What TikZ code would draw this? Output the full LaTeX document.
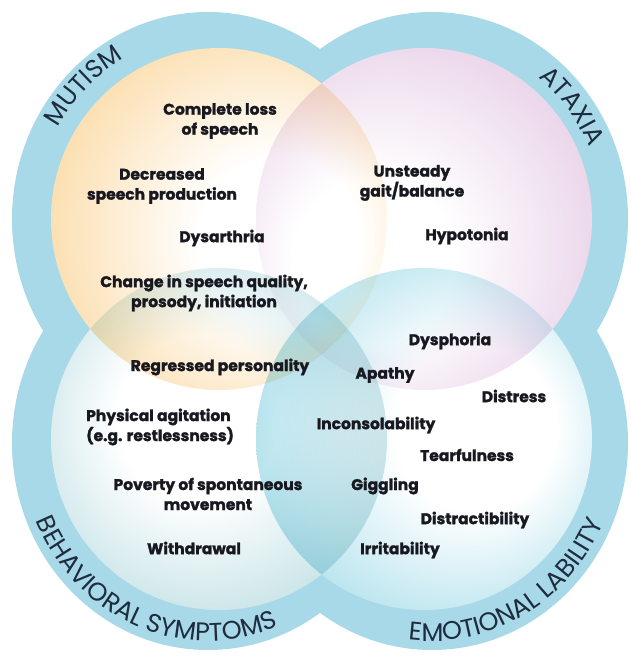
\documentclass[tikz,border=0pt]{standalone}
\usepackage{fontspec}
\setmainfont{Poppins}[BoldFeatures={FakeBold=1.6}]
\usetikzlibrary{decorations.text}

\definecolor{ringblue}{RGB}{168,217,232}
\definecolor{mutorange}{RGB}{248,192,100}
\definecolor{ataxpurple}{RGB}{214,174,214}
\definecolor{behavteal}{RGB}{136,196,204}
\definecolor{emoblue}{RGB}{90,192,216}
\definecolor{labelink}{RGB}{24,24,32}
\definecolor{ringink}{RGB}{30,44,62}

% soft radial fills, white spot pulled towards the middle of the diagram
\pgfdeclareradialshading{mutshade}{\pgfpoint{12bp}{-4bp}}{color(0bp)=(white); color(12bp)=(white); color(32bp)=(mutorange!55!white); color(50bp)=(mutorange)}
\pgfdeclareradialshading{ataxshade}{\pgfpoint{-10bp}{-8bp}}{color(0bp)=(white); color(12bp)=(white); color(32bp)=(ataxpurple!55!white); color(50bp)=(ataxpurple)}
\pgfdeclareradialshading{behavshade}{\pgfpoint{-4bp}{4bp}}{color(0bp)=(white); color(12bp)=(white); color(32bp)=(behavteal!55!white); color(50bp)=(behavteal)}
\pgfdeclareradialshading{emoshade}{\pgfpoint{10bp}{2bp}}{color(0bp)=(white); color(12bp)=(white); color(32bp)=(emoblue!50!white); color(50bp)=(emoblue)}

\tikzset{
  symptom/.style={font=\bfseries\fontsize{15.5}{20}\selectfont, text=labelink, align=center, inner sep=0pt},
  ringtext/.style={decorate, decoration={text along path, text align=center,
      text color=ringink, text={|\fontsize{25.5}{25.5}\selectfont|#1}}}
}

\begin{document}
\begin{tikzpicture}[x=1pt, y=1pt]
  \useasboundingbox (0,0) rectangle (631,658);
  % outer ring radii, inner circle radii
  \def\ox{196}
  \def\oy{207}
  \def\ix{168}
  \def\iy{171}

  \coordinate (tl) at (208,439);
  \coordinate (tr) at (432,439);
  \coordinate (bl) at (208,215);
  \coordinate (br) at (432,215);

  \coordinate (mut) at (219,439);
  \coordinate (atx) at (424,439);
  \coordinate (beh) at (219,219);
  \coordinate (emo) at (424,219);

  % blue rings
  \foreach \c in {tl,tr,bl,br} {
    \fill[ringblue] (\c) ellipse [x radius=\ox, y radius=\oy];
  }

  % inner circles
  \foreach \c in {mut,atx,beh,emo} {
    \fill[white] (\c) ellipse [x radius=\ix, y radius=\iy];
  }
  \begin{scope}[blend mode=multiply]
    \shade[shading=mutshade] (mut) ellipse [x radius=\ix, y radius=\iy];
    \shade[shading=ataxshade] (atx) ellipse [x radius=\ix, y radius=\iy];
    \shade[shading=behavshade] (beh) ellipse [x radius=\ix, y radius=\iy];
    \shade[shading=emoshade] (emo) ellipse [x radius=\ix, y radius=\iy];
  \end{scope}

  % symptoms
  \node[symptom] (s1) at (220,537) {Complete loss\\of speech};
  \node[symptom] (s2) at (162,472) {Decreased\\speech production};
  \node[symptom] (s3) at (222,420) {Dysarthria};
  \node[symptom] (s4) at (204,365) {Change in speech quality,\\prosody, initiation};
  \node[symptom] (s5) at (220,291) {Regressed personality};
  \node[symptom] (s6) at (412,475) {Unsteady\\gait/balance};
  \node[symptom] (s7) at (467,422) {Hypotonia};
  \node[symptom] (s8) at (450,317) {Dysphoria};
  \node[symptom] (s9) at (385,283) {Apathy};
  \node[symptom] (s10) at (514,262) {Distress};
  \node[symptom, align=left, anchor=west] (s11) at (86,231) {Physical agitation\\(e.g. restlessness)};
  \node[symptom] (s12) at (376,233) {Inconsolability};
  \node[symptom] (s13) at (467,203) {Tearfulness};
  \node[symptom] (s14) at (208,164) {Poverty of spontaneous\\movement};
  \node[symptom] (s15) at (385,172) {Giggling};
  \node[symptom] (s16) at (475,138) {Distractibility};
  \node[symptom] (s17) at (194,110) {Withdrawal};
  \node[symptom] (s18) at (400,108) {Irritability};

  % ring titles
  \path[ringtext={MUTISM}] (tl) ++(172:173 and 183)
    arc [start angle=172, end angle=96, x radius=173, y radius=183];
  \path[ringtext={ATAXIA}] (tr) ++(78:171 and 181)
    arc [start angle=78, end angle=-2, x radius=171, y radius=181];
  \path[ringtext={BEHAVIORAL SYMPTOMS}] (bl) ++(182:187 and 198)
    arc [start angle=182, end angle=314, x radius=187, y radius=198];
  \path[ringtext={EMOTIONAL LABILITY}] (br) ++(240:187 and 198)
    arc [start angle=240, end angle=358, x radius=187, y radius=198];
\end{tikzpicture}
\end{document}
